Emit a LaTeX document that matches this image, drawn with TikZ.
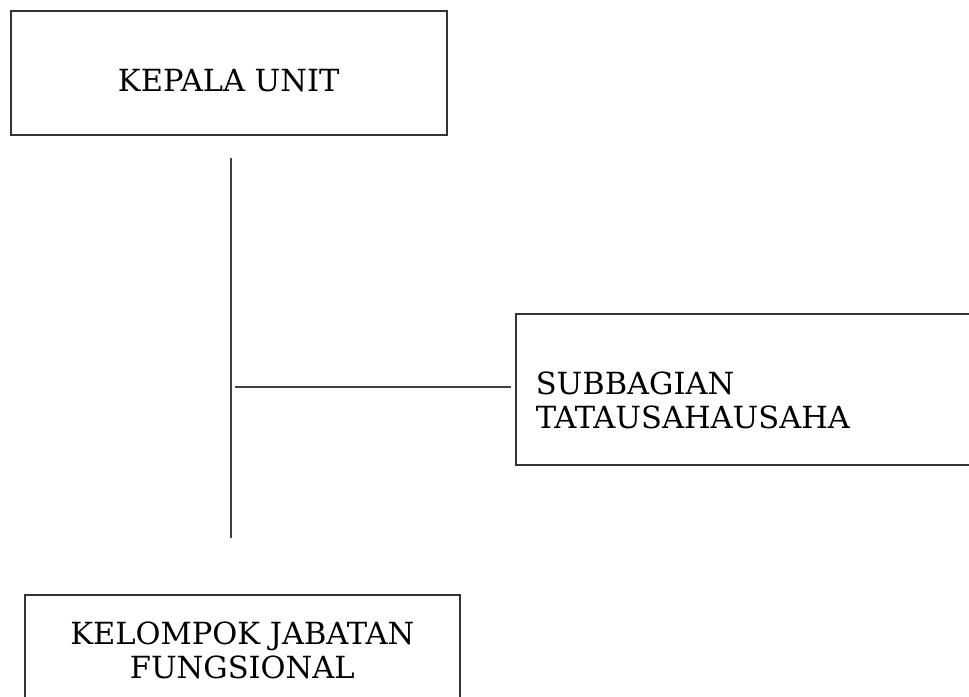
\documentclass[tikz,border=0pt]{standalone}
\usepackage{fontspec}
\setmainfont{DejaVu Serif}
\usepackage{tikz}
\usetikzlibrary{positioning}

\tikzset{
	unitbox/.style={draw=black!80, line width=1.5pt, inner sep=0pt, font=\fontsize{30.5}{34}\selectfont},
	link/.style={draw=black!75, line width=1.5pt}
}

\begin{document}
\begin{tikzpicture}[x=1pt,y=-1pt]
	\clip (0,0) rectangle (969,696);
	\node[unitbox, anchor=north west, minimum width=436pt, minimum height=124pt, text height=40pt, text depth=2pt] (kepala) at (10,10) {KEPALA UNIT};
	\node[unitbox, anchor=north west, minimum width=480pt, minimum height=151pt, text width=440pt, align=left, text height=45pt, text depth=34pt] (sub) at (515,313) {SUBBAGIAN\\TATAUSAHAUSAHA};
	\node[unitbox, anchor=north west, minimum width=435pt, minimum height=112pt, align=center] (kelompok) at (24,594) {KELOMPOK JABATAN\\FUNGSIONAL};

	\coordinate (top) at (231,158);
	\coordinate (bot) at (231,538);
	\coordinate (mid) at (235,387);

	\draw[link] (top) -- (bot);
	\draw[link, shorten >=4pt] (mid) -- (mid -| sub.west);
\end{tikzpicture}
\end{document}
